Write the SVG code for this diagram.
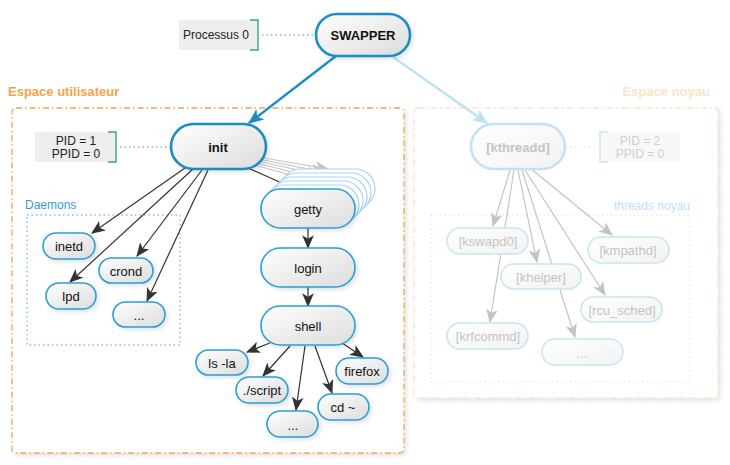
<svg xmlns="http://www.w3.org/2000/svg" width="730" height="465" viewBox="0 0 730 465">
<defs>
<linearGradient id="g" x1="0" y1="0" x2="1" y2="1">
<stop offset="0" stop-color="#ffffff"/><stop offset="1" stop-color="#dcdcdc"/>
</linearGradient>
<linearGradient id="gp" x1="0" y1="0" x2="1" y2="1">
<stop offset="0" stop-color="#ffffff"/><stop offset="1" stop-color="#f2f2f2"/>
</linearGradient>
<filter id="sh" x="-10%" y="-10%" width="130%" height="130%">
<feDropShadow dx="2" dy="2" stdDeviation="2" flood-color="#000" flood-opacity="0.12"/>
</filter>
<marker id="ad" viewBox="0 0 10 10" refX="9" refY="5" markerWidth="5" markerHeight="5" orient="auto-start-reverse" markerUnits="userSpaceOnUse">
</marker>
<marker id="a" viewBox="0 0 12 10" refX="11" refY="5" markerWidth="14" markerHeight="12" orient="auto" markerUnits="userSpaceOnUse">
<path d="M0,0 L12,5 L0,10 L3,5 z" fill="#333"/>
</marker>
<marker id="ag" viewBox="0 0 12 10" refX="11" refY="5" markerWidth="14" markerHeight="12" orient="auto" markerUnits="userSpaceOnUse">
<path d="M0,0 L12,5 L0,10 L3,5 z" fill="#c4c4c4"/>
</marker>
<marker id="ab" viewBox="0 0 12 10" refX="11" refY="5" markerWidth="16" markerHeight="13" orient="auto" markerUnits="userSpaceOnUse">
<path d="M0,0 L12,5 L0,10 L3,5 z" fill="#1a8cc4"/>
</marker>
<marker id="alb" viewBox="0 0 12 10" refX="11" refY="5" markerWidth="16" markerHeight="13" orient="auto" markerUnits="userSpaceOnUse">
<path d="M0,0 L12,5 L0,10 L3,5 z" fill="#bfe2f2"/>
</marker>
</defs>
<style>
text{font-family:"Liberation Sans",Arial,sans-serif;text-anchor:middle;dominant-baseline:central}
.n{fill:url(#g);stroke:#2aa0d4;stroke-width:1.6}
.big{fill:url(#g);stroke:#1a8cc4;stroke-width:2.6}
.st{fill:#fff;stroke:#a9d3f5;stroke-width:1.2}
.pn{fill:url(#gp);stroke:#c8e6f4;stroke-width:1.6}
.pbig{fill:url(#gp);stroke:#c0e2f2;stroke-width:2.6}
.t{font-size:13px;fill:#111}
.tb{font-size:13px;font-weight:bold;fill:#111}
.tp{font-size:13px;fill:#c4c4c4}
.s{font-size:12px;fill:#222}
.sp{font-size:12px;fill:#cfcfcf}
.c{stroke:#333;stroke-width:1.2;fill:none;marker-end:url(#a)}
.cg{stroke:#c4c4c4;stroke-width:1.2;fill:none;marker-end:url(#ag)}
</style>
<rect width="730" height="465" fill="#fff"/>

<!-- containers -->
<g id="user-space">
<text x="8" y="91" style="font-size:13px;font-weight:bold;fill:#f7a24c;text-anchor:start">Espace utilisateur</text>
<rect x="12" y="108" width="392" height="345" rx="4" fill="#fff" stroke="#f7a24c" stroke-width="1.3" stroke-dasharray="6,3,1.5,3" filter="url(#sh)"/>
</g>
<g id="kernel-space">
<text x="710" y="91" style="font-size:13px;font-weight:bold;fill:#fde3c8;text-anchor:end">Espace noyau</text>
<rect x="414" y="108" width="304" height="290" rx="4" fill="#fff" stroke="#fde3c8" stroke-width="1.3" stroke-dasharray="6,3,1.5,3" filter="url(#sh)"/>
</g>
<g id="daemons">
<text x="25" y="205" style="font-size:12px;fill:#2e9fd6;text-anchor:start">Daemons</text>
<rect x="27" y="215" width="153" height="130" fill="none" stroke="#38a8d0" stroke-width="1" stroke-dasharray="1.5,3"/>
</g>
<g id="threads-noyau">
<text x="690" y="206" style="font-size:12px;fill:#bfe0f2;text-anchor:end">threads noyau</text>
<rect x="431" y="215" width="259" height="167" fill="none" stroke="#cde8f2" stroke-width="1" stroke-dasharray="1.5,3"/>
</g>

<!-- annotations -->
<g id="note-processus0">
<rect x="179" y="20" width="79" height="30" fill="#eeeeee"/>
<path d="M250,20 H258 V50 H250" fill="none" stroke="#3aa37a" stroke-width="1.4"/>
<text x="216" y="35" class="s">Processus 0</text>
</g>
<g id="note-pid1">
<rect x="35" y="132" width="81" height="30" fill="#eeeeee"/>
<path d="M108,132 H116 V162 H108" fill="none" stroke="#3aa37a" stroke-width="1.4"/>
<text x="76" y="141" class="s">PID = 1</text>
<text x="76" y="154" class="s">PPID = 0</text>
</g>
<g id="note-pid2">
<rect x="600" y="132" width="80" height="30" fill="#f8f8f8"/>
<path d="M608,132 H600 V162 H608" fill="none" stroke="#cde8e0" stroke-width="1.4"/>
<text x="640" y="141" class="sp">PID = 2</text>
<text x="640" y="154" class="sp">PPID = 0</text>
</g>

<!-- connectors -->
<g id="connectors">
<line x1="262" y1="35" x2="316" y2="35" stroke="#3aa37a" stroke-width="1.2" stroke-dasharray="1.5,3"/>
<line x1="120" y1="147" x2="171" y2="147" stroke="#3aa37a" stroke-width="1.2" stroke-dasharray="1.5,3"/>
<line x1="566" y1="147" x2="598" y2="147" stroke="#cde8e0" stroke-width="1.2" stroke-dasharray="1.5,3"/>
<line x1="336" y1="56" x2="249" y2="123" stroke="#1a8cc4" stroke-width="2.4" marker-end="url(#ab)"/>
<line x1="393" y1="57" x2="487" y2="123" stroke="#bfe2f2" stroke-width="2.4" marker-end="url(#alb)"/>
<!-- init to daemons -->
<path class="c" d="M185,168 L92,233"/>
<path class="c" d="M193,169 L70,282"/>
<path class="c" d="M202,170 L137,256"/>
<path class="c" d="M208,170 L147,301"/>
<!-- init to getty stack -->
<path class="cg" d="M264,158 L328,169"/>
<path class="cg" d="M263,160 L324,172"/>
<path class="cg" d="M262,162 L320,175"/>
<path class="cg" d="M260,164 L316,178"/>
<path class="cg" d="M258,166 L312,181"/>
<path class="c" d="M248,168 L293,188"/>
<path class="c" d="M308,228 L308,248"/>
<path class="c" d="M308,287 L308,306"/>
<!-- shell children -->
<path class="c" d="M270,343 L247,352"/>
<path class="c" d="M290,346 L263,376"/>
<path class="c" d="M305,346 L296,410"/>
<path class="c" d="M315,346 L332,393"/>
<path class="c" d="M342,343 L363,357"/>
<!-- kthreadd children -->
<path class="cg" d="M510,170 L493,226"/>
<path class="cg" d="M514,170 L490,322"/>
<path class="cg" d="M518,170 L537,262"/>
<path class="cg" d="M522,170 L575,337"/>
<path class="cg" d="M525,170 L605,295"/>
<path class="cg" d="M530,168 L612,235"/>
</g>

<!-- nodes -->
<g id="swapper"><rect class="big" x="316" y="14" width="94" height="42" rx="21" filter="url(#sh)"/><text x="363" y="35" class="tb">SWAPPER</text></g>
<g id="init"><rect class="big" x="171" y="124" width="95" height="45" rx="22.5" filter="url(#sh)"/><text x="218" y="147" class="tb">init</text></g>
<g id="kthreadd"><rect class="pbig" x="471" y="124" width="94" height="45" rx="22.5"/><text x="518" y="147" style="font-size:13px;font-weight:bold;fill:#c4c4c4">[kthreadd]</text></g>

<g id="inetd"><rect class="n" x="43" y="233" width="52" height="26" rx="13" filter="url(#sh)"/><text x="69" y="246" class="t">inetd</text></g>
<g id="crond"><rect class="n" x="99" y="258" width="54" height="25" rx="12.5" filter="url(#sh)"/><text x="126" y="271" class="t">crond</text></g>
<g id="lpd"><rect class="n" x="46" y="283" width="50" height="26" rx="13" filter="url(#sh)"/><text x="71" y="296" class="t">lpd</text></g>
<g id="daemons-more"><rect class="n" x="113" y="302" width="52" height="25" rx="12.5" filter="url(#sh)"/><text x="139" y="315" class="t">...</text></g>

<g id="getty">
<rect class="st" x="281" y="169" width="94" height="39" rx="19.5"/>
<rect class="st" x="277" y="173" width="94" height="39" rx="19.5"/>
<rect class="st" x="273" y="177" width="94" height="39" rx="19.5"/>
<rect class="st" x="269" y="181" width="94" height="39" rx="19.5"/>
<rect class="st" x="265" y="185" width="94" height="39" rx="19.5"/>
<rect class="n" x="261" y="189" width="94" height="39" rx="19.5" filter="url(#sh)"/><text x="308" y="209" class="t">getty</text>
</g>
<g id="login"><rect class="n" x="261" y="248" width="94" height="39" rx="19.5" filter="url(#sh)"/><text x="308" y="268" class="t">login</text></g>
<g id="shell"><rect class="n" x="261" y="306" width="94" height="39" rx="19.5" filter="url(#sh)"/><text x="308" y="326" class="t">shell</text></g>

<g id="ls"><rect class="n" x="196" y="350" width="52" height="25" rx="12.5" filter="url(#sh)"/><text x="222" y="363" class="t">ls -la</text></g>
<g id="script"><rect class="n" x="236" y="377" width="52" height="26" rx="13" filter="url(#sh)"/><text x="262" y="390" class="t">./script</text></g>
<g id="shell-more"><rect class="n" x="267" y="411" width="51" height="26" rx="13" filter="url(#sh)"/><text x="293" y="425" class="t">...</text></g>
<g id="cd"><rect class="n" x="318" y="394" width="51" height="26" rx="13" filter="url(#sh)"/><text x="343" y="407" class="t">cd ~</text></g>
<g id="firefox"><rect class="n" x="336" y="358" width="52" height="26" rx="13" filter="url(#sh)"/><text x="362" y="371" class="t">firefox</text></g>

<g id="kswapd0"><rect class="pn" x="447" y="228" width="81" height="26" rx="13"/><text x="488" y="241" class="tp">[kswapd0]</text></g>
<g id="kmpathd"><rect class="pn" x="588" y="237" width="81" height="26" rx="13"/><text x="628" y="250" class="tp">[kmpathd]</text></g>
<g id="khelper"><rect class="pn" x="501" y="264" width="80" height="25" rx="12.5"/><text x="541" y="277" class="tp">[khelper]</text></g>
<g id="rcu_sched"><rect class="pn" x="581" y="297" width="81" height="25" rx="12.5"/><text x="622" y="310" class="tp">[rcu_sched]</text></g>
<g id="krfcommd"><rect class="pn" x="447" y="323" width="81" height="26" rx="13"/><text x="488" y="336" class="tp">[krfcommd]</text></g>
<g id="kthreads-more"><rect class="pn" x="542" y="339" width="81" height="26" rx="13"/><text x="582" y="353" class="tp">...</text></g>
</svg>
